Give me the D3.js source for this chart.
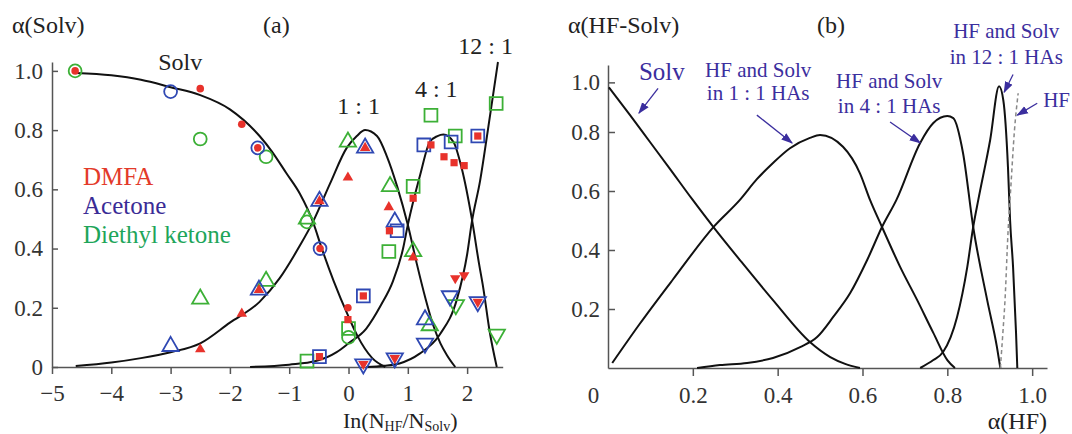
<!DOCTYPE html>
<html>
<head>
<meta charset="utf-8">
<script src="https://cdn.jsdelivr.net/npm/d3@7"></script>
<style>
  body { margin: 0; background: #fff; }
  text { font-family: "Liberation Serif", "Times New Roman", serif; }
</style>
</head>
<body>
<div id="chart"></div>
<script>
// ------------------------- data ------------------------//

// panel (a): fitted curves, [ln(NHF/NSolv), alpha]
var curveSolv = [[-4.6,0.993],[-4,0.985],[-3.5,0.97],[-3,0.945],[-2.5,0.918],[-2,0.87],[-1.5,0.78],[-1.3,0.73],
  [-1.05,0.655],[-0.82,0.585],[-0.6,0.49],[-0.45,0.40],[-0.25,0.29],[0,0.17],[0.15,0.105],[0.4,0.03],[0.62,0]];
var curve11 = [[-4.6,0.003],[-4,0.015],[-3.5,0.03],[-3,0.05],[-2.5,0.08],[-2,0.15],[-1.5,0.22],[-1.16,0.30],
  [-0.82,0.41],[-0.6,0.49],[-0.31,0.62],[-0.03,0.74],[0.14,0.78],[0.28,0.80],[0.48,0.78],[0.65,0.71],[0.82,0.61],
  [1.0,0.48],[1.15,0.35],[1.3,0.23],[1.43,0.14],[1.55,0.08],[1.66,0.04],[1.8,0]];
var curve41 = [[-1.66,0],[-1,0.008],[-0.55,0.02],[-0.2,0.05],[0,0.08],[0.3,0.13],[0.55,0.21],[0.75,0.29],
  [0.92,0.40],[1.0,0.48],[1.21,0.65],[1.37,0.76],[1.5,0.78],[1.6,0.785],[1.77,0.76],[1.91,0.67],[2.08,0.50],
  [2.2,0.35],[2.27,0.27],[2.38,0.12],[2.5,0]];
var curve121 = [[0.3,0],[0.6,0.004],[0.86,0.012],[1.2,0.045],[1.54,0.11],[1.83,0.23],[2.0,0.38],[2.08,0.49],
  [2.22,0.63],[2.35,0.80],[2.52,1.03]];

// panel (a): measured points per solvent and species
var dmfaSolv = [[-4.61,1.0],[-2.5,0.94],[-1.8,0.82],[-1.53,0.74],[-0.48,0.40],[-0.01,0.20]];
var dmfa11 = [[-2.5,0.06],[-1.8,0.18],[-1.51,0.26],[-0.49,0.56],[-0.01,0.64],[0.28,0.74],[0.68,0.54],[1.09,0.37]];
var dmfa41 = [[-0.49,0.035],[0.25,0.24],[-0.01,0.16],[0.69,0.46],[1.09,0.57],[1.39,0.75],[1.61,0.71],[1.78,0.69],[1.95,0.68],[2.18,0.78]];
var dmfa121 = [[0.25,0.01],[0.78,0.03],[1.80,0.30],[1.95,0.31],[2.18,0.22]];

var aceSolv = [[-3.0,0.93],[-1.53,0.74],[-0.48,0.40]];
var ace11 = [[-3.0,0.07],[-1.51,0.26],[-0.49,0.56],[0.28,0.74],[0.78,0.49],[1.29,0.16]];
var ace41 = [[-0.49,0.035],[0.25,0.24],[0.82,0.46],[1.27,0.75],[1.73,0.76],[2.18,0.78]];
var ace121 = [[0.25,0.01],[0.78,0.03],[1.29,0.08],[1.71,0.24],[2.18,0.22]];

var dekSolv = [[-4.61,1.0],[-2.5,0.77],[-1.39,0.71],[-0.7,0.49],[0.0,0.10]];
var dek11 = [[-2.5,0.23],[-1.39,0.29],[-0.7,0.50],[-0.01,0.76],[0.70,0.61],[1.09,0.39],[1.37,0.14]];
var dek41 = [[-0.7,0.02],[0.0,0.13],[0.68,0.39],[1.09,0.61],[1.39,0.85],[1.80,0.78],[2.49,0.89]];
var dek121 = [[1.81,0.21],[2.5,0.11]];

// panel (b): [alpha(HF), alpha(HF-Solv)]
var bSolv = [[0.002,0.98],[0.052,0.868],[0.099,0.766],[0.146,0.675],[0.198,0.573],[0.25,0.475],[0.311,0.366],
  [0.389,0.23],[0.476,0.088],[0.524,0.037],[0.559,0.014],[0.594,0]];
var b11 = [[0.01,0.017],[0.075,0.15],[0.153,0.30],[0.25,0.48],[0.311,0.57],[0.351,0.64],[0.389,0.695],
  [0.429,0.745],[0.476,0.78],[0.5,0.79],[0.554,0.75],[0.594,0.66],[0.618,0.569],[0.646,0.478],[0.689,0.342],
  [0.729,0.23],[0.767,0.119],[0.80,0.027],[0.818,0]];
var b41 = [[0.21,0],[0.264,0.01],[0.328,0.017],[0.389,0.034],[0.453,0.071],[0.493,0.105],[0.531,0.173],
  [0.571,0.254],[0.611,0.366],[0.646,0.478],[0.68,0.57],[0.736,0.763],[0.767,0.836],[0.80,0.864],[0.814,0.856],
  [0.837,0.729],[0.861,0.478],[0.894,0.23],[0.917,0.071],[0.925,0]];
var b121 = [[0.736,0],[0.767,0.027],[0.79,0.054],[0.823,0.173],[0.847,0.342],[0.861,0.478],[0.873,0.57],
  [0.901,0.773],[0.922,0.984],[0.932,0.928],[0.943,0.68],[0.948,0.5],[0.955,0.342],[0.962,0.119],[0.965,0]];
var bHF = [[0.925,0],[0.931,0.12],[0.936,0.23],[0.943,0.457],[0.95,0.62],[0.958,0.8],[0.967,0.956]];

var xTicksA = [-5,-4,-3,-2,-1,0,1,2];
var yTicksA = [0,0.2,0.4,0.6,0.8,1.0];
var xTicksB = [0,0.2,0.4,0.6,0.8,1.0];
var yTicksB = [0.2,0.4,0.6,0.8,1.0];

var legendNames = ["DMFA","Acetone","Diethyl ketone"];

// ------------------------- svg init ------------------------//

var width = 1072, height = 434;
var red = "#e8322b", blue = "#2f48b3", green = "#3cb036", ink = "#3b2e9e";

var svg = d3.select("#chart").append("svg")
  .attr("width", width)
  .attr("height", height);

svg.append("defs").append("marker")
  .attr("id", "arr")
  .attr("viewBox", "0 0 10 10")
  .attr("refX", 9).attr("refY", 5)
  .attr("markerWidth", 9).attr("markerHeight", 9)
  .attr("orient", "auto")
  .append("path").attr("d", "M0,1.5 L10,5 L0,8.5 Z").attr("fill", ink);

var xA = d3.scaleLinear().domain([-5, 2.6]).range([52, 502.7]);
var yA = d3.scaleLinear().domain([0, 1.03]).range([367, 62]);
var xB = d3.scaleLinear().domain([0, 1.035]).range([608, 1047]);
var yB = d3.scaleLinear().domain([0, 0.8, 1.07]).range([368, 132, 65]);

function styleAxis(g) {
  g.selectAll("path,line").attr("stroke", "#555").attr("stroke-width", 1.5);
  g.selectAll("text").attr("fill", "#333").attr("font-size", 23)
    .attr("font-family", "'Liberation Serif', serif");
}

// ------------------------- panel (a) ------------------------//

svg.append("g").attr("transform", "translate(0," + yA(0) + ")")
  .call(d3.axisBottom(xA).tickValues(xTicksA).tickSize(7).tickSizeOuter(0).tickPadding(11))
  .call(styleAxis);

svg.append("g").attr("transform", "translate(" + xA(-5) + ",0)")
  .call(d3.axisLeft(yA).tickValues(yTicksA).tickSize(-6).tickSizeOuter(0).tickPadding(9)
    .tickFormat(function (d) { return d === 0 ? "0" : d3.format(".1f")(d); }))
  .call(styleAxis);

var lineA = d3.line().x(function (d) { return xA(d[0]); }).y(function (d) { return yA(d[1]); })
  .curve(d3.curveMonotoneX);

[curveSolv, curve11, curve41, curve121].forEach(function (c) {
  svg.append("path").attr("d", lineA(c))
    .attr("fill", "none").attr("stroke", "#111").attr("stroke-width", 2);
});

function drawPoints(data, type, color, filled, size, rot) {
  svg.append("g").selectAll("path").data(data).enter().append("path")
    .attr("d", d3.symbol().type(type).size(size))
    .attr("transform", function (d) {
      return "translate(" + xA(d[0]) + "," + yA(d[1]) + ")" + (rot ? " rotate(180)" : "");
    })
    .attr("fill", filled ? color : "none")
    .attr("stroke", filled ? "none" : color)
    .attr("stroke-width", 1.8);
}

// open markers: acetone (blue) and diethyl ketone (green)
[[dekSolv, green], [aceSolv, blue]].forEach(function (p) { drawPoints(p[0], d3.symbolCircle, p[1], false, 130); });
[[dek11, green], [ace11, blue]].forEach(function (p) { drawPoints(p[0], d3.symbolTriangle, p[1], false, 115); });
[[dek41, green], [ace41, blue]].forEach(function (p) { drawPoints(p[0], d3.symbolSquare, p[1], false, 165); });
[[dek121, green], [ace121, blue]].forEach(function (p) { drawPoints(p[0], d3.symbolTriangle, p[1], false, 115, true); });

// filled markers: DMFA (red)
drawPoints(dmfaSolv, d3.symbolCircle, red, true, 45);
drawPoints(dmfa11, d3.symbolTriangle, red, true, 48);
drawPoints(dmfa41, d3.symbolSquare, red, true, 52);
drawPoints(dmfa121, d3.symbolTriangle, red, true, 48, true);

// labels
function label(x, y, txt, size, color, anchor) {
  return svg.append("text").attr("x", x).attr("y", y)
    .attr("font-size", size).attr("fill", color || "#222")
    .attr("text-anchor", anchor || "start").text(txt);
}

label(12, 33, "α(Solv)", 24);
label(263, 33, "(a)", 24);
label(xA(-3.21), yA(1.003), "Solv", 24);
label(xA(-0.19), yA(0.855), "1 : 1", 24);
label(xA(1.12), yA(0.912), "4 : 1", 24);
label(xA(1.85), yA(1.057), "12 : 1", 24);

var legendColors = ["#e33a2a", "#3a2c96", "#1ea55a"];
legendNames.forEach(function (n, i) {
  label(83, 185 + i * 29, n, 25, legendColors[i]);
});

var xt = svg.append("text").attr("x", 343).attr("y", 428).attr("font-size", 22).attr("fill", "#222");
xt.append("tspan").text("In(N");
xt.append("tspan").attr("font-size", 14).attr("dy", 3).text("HF");
xt.append("tspan").attr("dy", -3).text("/N");
xt.append("tspan").attr("font-size", 14).attr("dy", 3).text("Solv");
xt.append("tspan").attr("dy", -3).text(")");

// ------------------------- panel (b) ------------------------//

var gxB = svg.append("g").attr("transform", "translate(0," + yB(0) + ")")
  .call(d3.axisBottom(xB).tickValues(xTicksB).tickSize(8).tickSizeOuter(0).tickPadding(11)
    .tickFormat(function (d) { return d === 0 ? "0" : d3.format(".1f")(d); }))
  .call(styleAxis);
gxB.selectAll(".tick text").filter(function (d) { return d === 0; }).attr("x", -15);
gxB.selectAll(".tick line").filter(function (d) { return d === 0; }).remove();

svg.append("g").attr("transform", "translate(" + xB(0) + ",0)")
  .call(d3.axisLeft(yB).tickValues(yTicksB).tickSize(-7).tickSizeOuter(0).tickPadding(8)
    .tickFormat(d3.format(".1f")))
  .call(styleAxis);

var lineB = d3.line().x(function (d) { return xB(d[0]); }).y(function (d) { return yB(d[1]); })
  .curve(d3.curveMonotoneX);

[bSolv, b11, b41, b121].forEach(function (c) {
  svg.append("path").attr("d", lineB(c))
    .attr("fill", "none").attr("stroke", "#111").attr("stroke-width", 2);
});
svg.append("path").attr("d", lineB(bHF))
  .attr("fill", "none").attr("stroke", "#888").attr("stroke-width", 1.5)
  .attr("stroke-dasharray", "4,3");

label(568, 33, "α(HF-Solv)", 24);
label(817, 33, "(b)", 24);
label(1047, 429, "α(HF)", 24, "#222", "end");

// annotations, placed in data units of panel (b)
var notes = [
  { lines: ["Solv"], x: 0.073, y: [1.008], anchor: "start", size: 25, from: [0.118, 0.976], to: [0.073, 0.876] },
  { lines: ["HF and Solv", "in 1 : 1 HAs"], x: 0.354, y: [1.023, 0.927], anchor: "middle", size: 21, from: [0.351, 0.868], to: [0.434, 0.763] },
  { lines: ["HF and Solv", "in 4 : 1 HAs"], x: 0.663, y: [0.976, 0.876], anchor: "middle", size: 21, from: [0.665, 0.84], to: [0.736, 0.763] },
  { lines: ["HF and Solv", "in 12 : 1 HAs"], x: 0.939, y: [1.18, 1.076], anchor: "middle", size: 21, from: [0.955, 1.032], to: [0.934, 0.96] },
  { lines: ["HF"], x: 1.026, y: [0.9], anchor: "start", size: 21, from: [1.012, 0.916], to: [0.965, 0.868] }
];

notes.forEach(function (n) {
  n.lines.forEach(function (t, i) {
    label(xB(n.x), yB(n.y[i]), t, n.size, ink, n.anchor);
  });
  svg.append("line")
    .attr("x1", xB(n.from[0])).attr("y1", yB(n.from[1]))
    .attr("x2", xB(n.to[0])).attr("y2", yB(n.to[1]))
    .attr("stroke", ink).attr("stroke-width", 1.3)
    .attr("marker-end", "url(#arr)");
});
</script>
</body>
</html>
